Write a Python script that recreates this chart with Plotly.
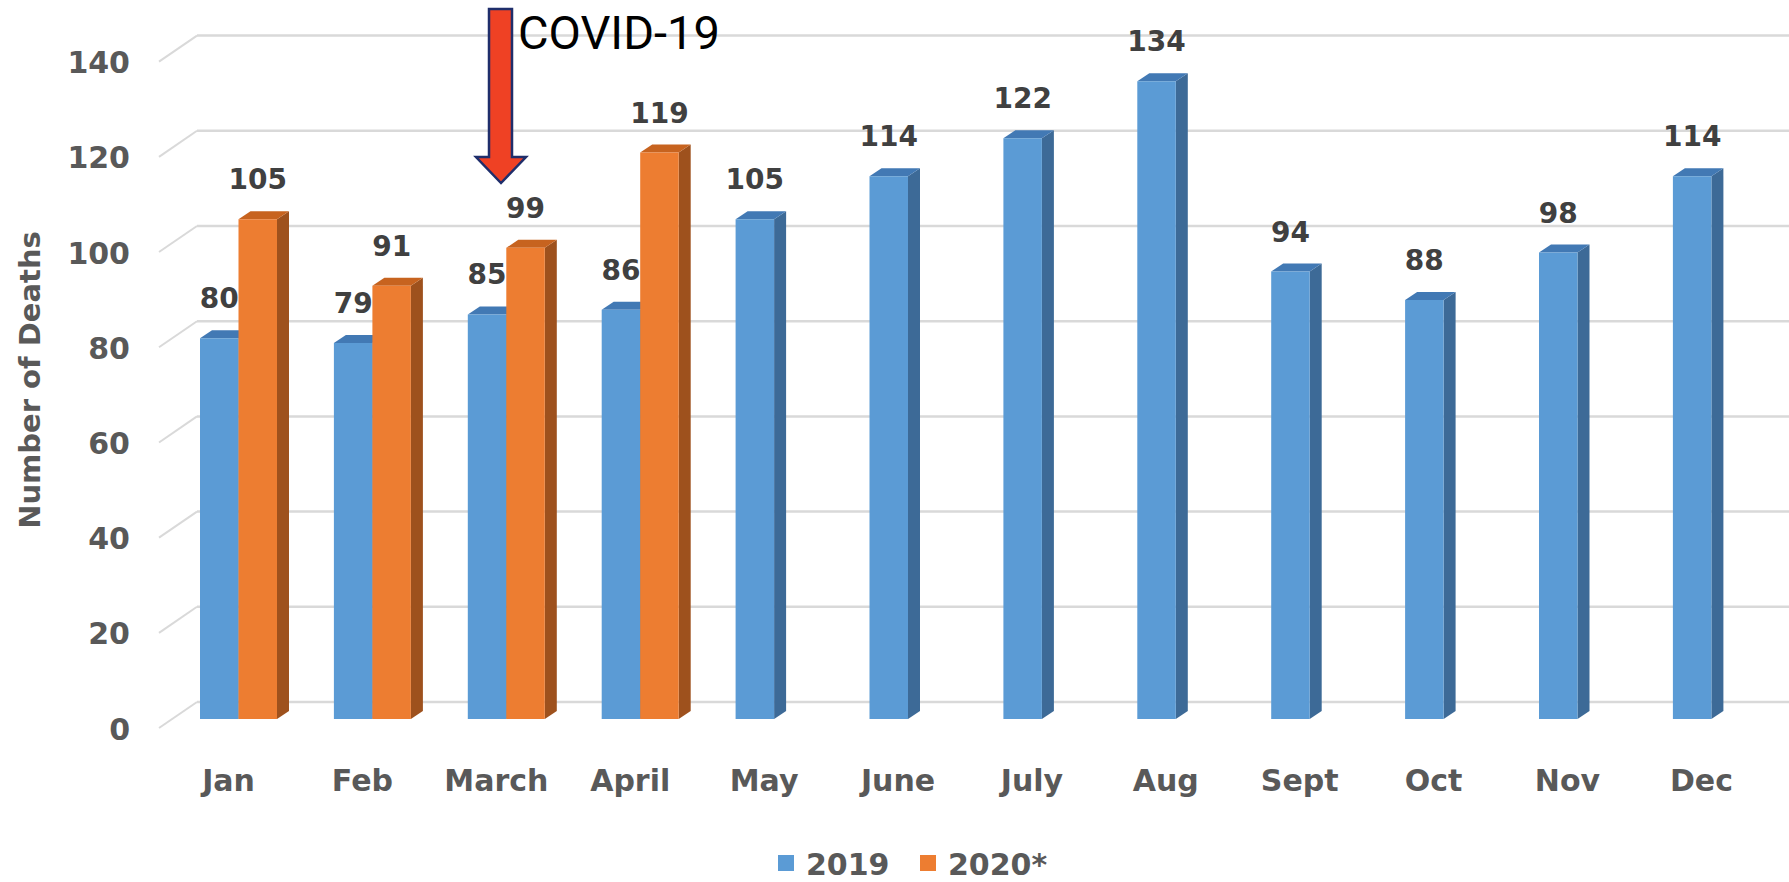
import plotly.graph_objects as go

# ---------------- data ----------------
months = ["Jan", "Feb", "March", "April", "May", "June", "July", "Aug",
          "Sept", "Oct", "Nov", "Dec"]
deaths_2019 = [80, 79, 85, 86, 105, 114, 122, 134, 94, 88, 98, 114]
deaths_2020 = [105, 91, 99, 119]
y_ticks = [0, 20, 40, 60, 80, 100, 120, 140]
series_names = ["2019", "2020*"]

# ---------------- geometry / style ----------------
W, H = 1789, 882
ML, MB = 135, 122
PH = H - MB
X0_PX, CAT_PX = 238.5, 133.9      # pixel of category 0 centre, px per category
Y0_PX, UNIT_PX = 719.0, 4.76      # pixel of value 0 (front), px per unit


def xd(px):
    return (px - X0_PX) / CAT_PX


def yd(py):
    return (Y0_PX - py) / UNIT_PX


BW = 38.5 / CAT_PX           # bar width
DX = 12 / CAT_PX             # depth offset x
DY = 8 / UNIT_PX             # depth offset y
GRID_BACK = 17 / UNIT_PX     # back wall offset
LABEL_SHIFT = 10 / UNIT_PX   # front tick label offset
LABEL_UP = 37 / UNIT_PX      # data label offset

BLUE, BLUE_TOP, BLUE_SIDE = "#5B9BD5", "#4279B4", "#3D6A97"
ORANGE, ORANGE_TOP, ORANGE_SIDE = "#ED7D31", "#C7631F", "#9E511D"
GRID = "#D9D9D9"
TXT = "#595959"
LBL = "#404040"
FONT = "DejaVu Sans"

fig = go.Figure()

x19 = list(range(len(deaths_2019)))
x20 = list(range(len(deaths_2020)))

fig.add_trace(go.Bar(x=x19, y=deaths_2019, offset=-BW, width=BW,
                     marker=dict(color=BLUE, line=dict(width=0)),
                     name=series_names[0], legendgroup="a", showlegend=False,
                     hoverinfo="y"))
fig.add_trace(go.Bar(x=x20, y=deaths_2020, offset=0, width=BW,
                     marker=dict(color=ORANGE, line=dict(width=0)),
                     name=series_names[1], legendgroup="b", showlegend=False,
                     hoverinfo="y"))

# data labels
fig.add_trace(go.Scatter(x=[i - BW / 2 for i in x19],
                         y=[v + LABEL_UP for v in deaths_2019],
                         text=[str(v) for v in deaths_2019], mode="text",
                         textfont=dict(family=FONT, size=28, color=LBL, weight="bold"),
                         showlegend=False, hoverinfo="skip", cliponaxis=False))
fig.add_trace(go.Scatter(x=[i + BW / 2 for i in x20],
                         y=[v + LABEL_UP for v in deaths_2020],
                         text=[str(v) for v in deaths_2020], mode="text",
                         textfont=dict(family=FONT, size=28, color=LBL, weight="bold"),
                         showlegend=False, hoverinfo="skip", cliponaxis=False))

# legend entries
fig.add_trace(go.Scatter(x=[None], y=[None], mode="markers", name=series_names[0],
                         legendgroup="a",
                         marker=dict(symbol="square", size=16, color=BLUE)))
fig.add_trace(go.Scatter(x=[None], y=[None], mode="markers", name=series_names[1],
                         legendgroup="b",
                         marker=dict(symbol="square", size=16, color=ORANGE)))

shapes = []
# back gridlines with floor slant
for v in y_ticks:
    shapes.append(dict(type="line", xref="x", yref="y", layer="below",
                       x0=xd(197), x1=xd(W + 5), y0=v + GRID_BACK, y1=v + GRID_BACK,
                       line=dict(color=GRID, width=2.5)))
    shapes.append(dict(type="line", xref="x", yref="y", layer="below",
                       x0=xd(159), x1=xd(197), y0=v - LABEL_SHIFT + 0.2, y1=v + GRID_BACK,
                       line=dict(color=GRID, width=2)))


def faces(xl, xr, v, top, side):
    out = []
    out.append(dict(type="path", xref="x", yref="y", layer="below",
                    path=f"M {xr},0 L {xr + DX},{DY} L {xr + DX},{v + DY} L {xr},{v} Z",
                    fillcolor=side, line=dict(width=0)))
    out.append(dict(type="path", xref="x", yref="y", layer="below",
                    path=f"M {xl},{v} L {xl + DX},{v + DY} L {xr + DX},{v + DY} L {xr},{v} Z",
                    fillcolor=top, line=dict(width=0)))
    return out


for i, v in zip(x19, deaths_2019):
    shapes += faces(i - BW, i, v, BLUE_TOP, BLUE_SIDE)
for i, v in zip(x20, deaths_2020):
    shapes += faces(i, i + BW, v, ORANGE_TOP, ORANGE_SIDE)

# COVID-19 arrow
ax = [(489, 9), (512, 9), (512, 157), (526, 157), (501, 183), (476, 157), (489, 157)]
arrow_path = "M " + " L ".join(f"{xd(px)},{yd(py)}" for px, py in ax) + " Z"
shapes.append(dict(type="path", xref="x", yref="y", layer="above", path=arrow_path,
                   fillcolor="#EF4124", line=dict(color="#1F2E6B", width=2.5)))

fig.update_layout(
    width=W, height=H,
    margin=dict(l=ML, r=0, t=0, b=MB, autoexpand=False),
    paper_bgcolor="white", plot_bgcolor="white",
    barmode="overlay",
    shapes=shapes,
    font=dict(family=FONT, color=TXT),
    showlegend=True,
    legend=dict(orientation="h", xanchor="left", yanchor="middle",
                x=(766 - ML) / (W - ML), y=(PH - 863) / PH,
                entrywidth=97, entrywidthmode="pixels",
                font=dict(family=FONT, size=30, color=TXT, weight="bold"),
                bgcolor="rgba(0,0,0,0)", itemclick=False),
    xaxis=dict(range=[xd(ML), xd(W)], tickmode="array",
               tickvals=[i - 10 / CAT_PX for i in x19], ticktext=months,
               showgrid=False, zeroline=False, showline=False, ticks="",
               tickfont=dict(family=FONT, size=30, color=TXT, weight="bold")),
    yaxis=dict(range=[yd(PH), yd(0)], tickmode="array",
               tickvals=[v - LABEL_SHIFT for v in y_ticks],
               ticktext=[str(v) for v in y_ticks],
               showgrid=False, zeroline=False, showline=False, ticks="",
               ticklabelstandoff=4,
               tickfont=dict(family=FONT, size=30, color=TXT, weight="bold"),
               title=dict(text="Number of Deaths", standoff=18,
                          font=dict(family=FONT, size=29, color=TXT, weight="bold"))),
    annotations=[dict(text="COVID-19", xref="x", yref="y", x=xd(516), y=yd(32),
                      xanchor="left", yanchor="middle", showarrow=False,
                      font=dict(family="Roboto", size=47, color="black"))],
)

fig.write_html("out.html",
               config={"displayModeBar": False},
               post_script="document.body.style.margin='0px';"
                           "document.documentElement.style.overflow='hidden';")
